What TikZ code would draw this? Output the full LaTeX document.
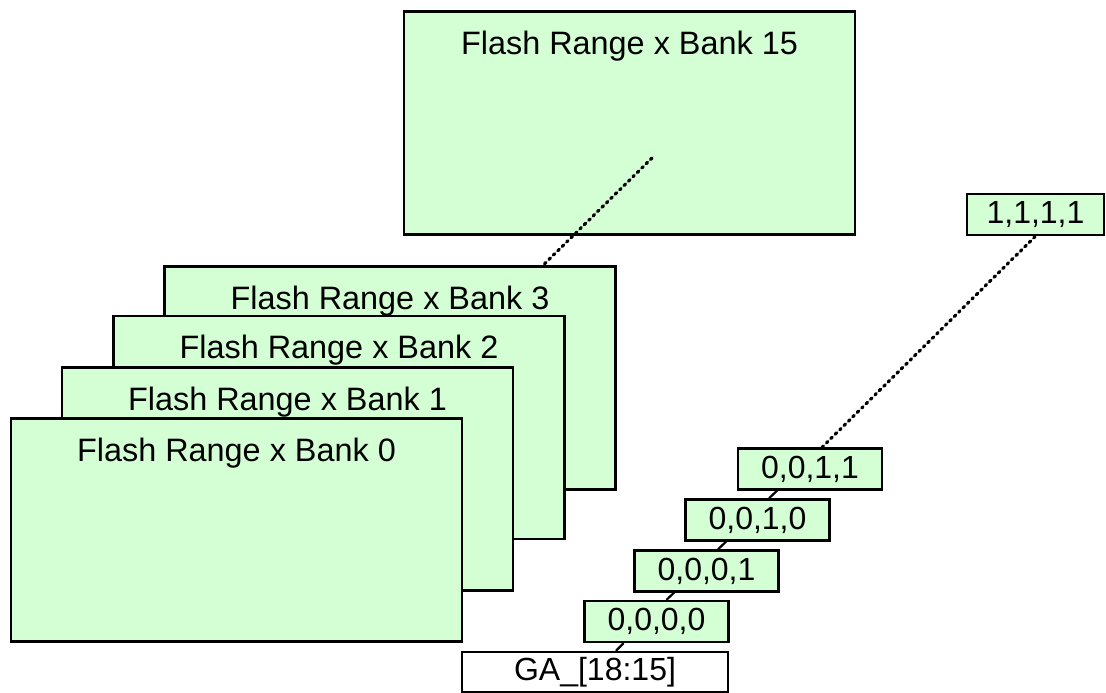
\documentclass[tikz,border=0pt]{standalone}
\usepackage{fontspec}
\setmainfont{Liberation Sans}
\definecolor{pale}{RGB}{212,255,212}
\newcommand{\banklbl}{\fontsize{32.4}{38}\selectfont}
\newcommand{\boxlbl}{\fontsize{32}{38}\selectfont}
\begin{document}
\begin{tikzpicture}[x=1pt,y=-1pt,
  bankbox/.style={draw=black, line width=2.4pt, fill=pale, rectangle,
    minimum width=451pt, minimum height=223pt, inner sep=0pt},
  bitbox/.style={draw=black, line width=2.4pt, fill=pale, rectangle,
    minimum width=144pt, minimum height=41pt, inner sep=0pt, font=\boxlbl},
  lbl/.style={anchor=base, yshift=-44pt, font=\banklbl, inner sep=0pt},
  dots/.style={line width=3.2pt, line cap=round, dash pattern=on 2pt off 4.2pt},
  link/.style={line width=2.2pt}]
\useasboundingbox (0,0) rectangle (1106,693);
\fill[white] (0,0) rectangle (1106,693);

% banks
\node[bankbox, label={[lbl]north:Flash Range x Bank 15}] (b15) at (629.5,123) {};
\node[bankbox, label={[lbl]north:Flash Range x Bank 3}] (b3) at (390,378) {};
\node[bankbox, label={[lbl]north:Flash Range x Bank 2}] (b2) at (339,427.5) {};
\node[bankbox, label={[lbl]north:Flash Range x Bank 1}] (b1) at (287.5,479) {};
\node[bankbox, label={[lbl]north:Flash Range x Bank 0}] (b0) at (236.5,530) {};

\coordinate (d15) at (652,158);
\draw[dots] (d15) -- ([xshift=153pt]b3.north);

% address bits
\node[bitbox] (s3) at (810,469) {0,0,1,1};
\node[bitbox] (s2) at (757.5,520) {0,0,1,0};
\node[bitbox] (s1) at (706.5,571) {0,0,0,1};
\node[bitbox] (s0) at (656.5,621.5) {0,0,0,0};
\node[bitbox, fill=white, minimum width=266pt, minimum height=40pt] (ga) at (595,672) {GA\_[18:15]};
\node[bitbox, minimum width=137pt] (s15) at (1035.5,214.5) {1,1,1,1};

\draw[link] ([xshift=21pt]ga.north) -- ([xshift=-33pt]s0.south);
\draw[link] ([xshift=10pt]s0.north) -- ([xshift=-32.5pt]s1.south);
\draw[link] ([xshift=11.5pt]s1.north) -- ([xshift=-31.5pt]s2.south);
\draw[link] ([xshift=11.5pt]s2.north) -- ([xshift=-33pt]s3.south);
\draw[dots] ([xshift=12pt]s3.north) -- (s15.south);
\end{tikzpicture}
\end{document}
